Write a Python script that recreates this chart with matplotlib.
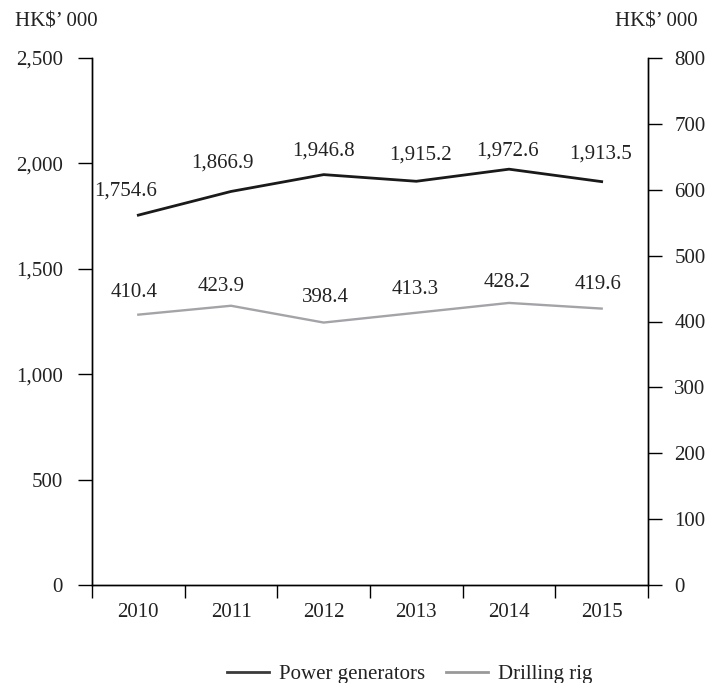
import matplotlib.pyplot as plt
from matplotlib.ticker import FuncFormatter, FixedLocator

plt.rcParams['font.family'] = ['Liberation Serif', 'DejaVu Serif']

years = ["2010", "2011", "2012", "2013", "2014", "2015"]
power_generators = [1754.6, 1866.9, 1946.8, 1915.2, 1972.6, 1913.5]
drilling_rig = [410.4, 423.9, 398.4, 413.3, 428.2, 419.6]

# décalages des étiquettes (en pixels) par rapport à chaque point
pg_offsets = [(-13, 24), (-9, 28), (0, 24), (4, 26), (-2, 18), (-1, 28)]
dr_offsets = [(-4, 22), (-10, 19), (2, 25), (-1, 23), (-2, 20), (-4, 24)]

FS = 15

fig = plt.figure(figsize=(7.09, 6.83), dpi=100)
ax = fig.add_axes([92 / 709, 1 - 585 / 683, (648 - 92) / 709, (585 - 58) / 683])
ax2 = ax.twinx()

x = [i + 0.5 for i in range(len(years))]
ax.plot(x, power_generators, color='#1a1a1a', lw=2.0, zorder=3)
ax2.plot(x, drilling_rig, color='#a4a4a8', lw=1.7, zorder=3)

for xi, v, (dx, dy) in zip(x, power_generators, pg_offsets):
    ax.annotate(f"{v:,.1f}", (xi, v), xytext=(dx, dy), textcoords='offset pixels',
                ha='center', va='center', fontsize=FS, color='#222222')
for xi, v, (dx, dy) in zip(x, drilling_rig, dr_offsets):
    ax2.annotate(f"{v:,.1f}", (xi, v), xytext=(dx, dy), textcoords='offset pixels',
                 ha='center', va='center', fontsize=FS, color='#222222')

ax.set_xlim(0, len(years))
ax.set_ylim(0, 2500)
ax2.set_ylim(0, 800)
ax.set_yticks(range(0, 2501, 500))
ax2.set_yticks(range(0, 801, 100))
ax.yaxis.set_major_formatter(FuncFormatter(lambda v, p: f"{int(v):,}"))

ax.xaxis.set_major_locator(FixedLocator(range(len(years) + 1)))
ax.xaxis.set_minor_locator(FixedLocator(x))
ax.set_xticklabels([])
ax.set_xticklabels(years, minor=True)
ax.tick_params(axis='x', which='major', length=9, width=1, direction='out')
ax.tick_params(axis='x', which='minor', length=0, pad=13, labelsize=FS, labelcolor='#222222')
ax.tick_params(axis='y', length=10, width=1, pad=11, labelsize=FS, labelcolor='#222222')
ax2.tick_params(axis='y', length=10, width=1, pad=9, labelsize=FS, labelcolor='#222222')

for a in (ax, ax2):
    a.spines['top'].set_visible(False)
    for s in a.spines.values():
        s.set_linewidth(1)

fig.text(15 / 709, 1 - 22 / 683, "HK$’ 000", fontsize=FS, va='center', ha='left', color='#222222')
fig.text(698 / 709, 1 - 22 / 683, "HK$’ 000", fontsize=FS, va='center', ha='right', color='#222222')

h1, = ax.plot([], [], color='#3a3a3a', lw=2.0)
h2, = ax.plot([], [], color='#999999', lw=2.0)
fig.legend([h1, h2], ["Power generators", "Drilling rig"], loc='center',
           bbox_to_anchor=(410 / 709, 1 - 674 / 683), ncol=2, frameon=False,
           fontsize=FS, handlelength=2.0, handletextpad=0.5, columnspacing=1.0,
           labelcolor='#222222')

fig.savefig("out.png", dpi=100)
